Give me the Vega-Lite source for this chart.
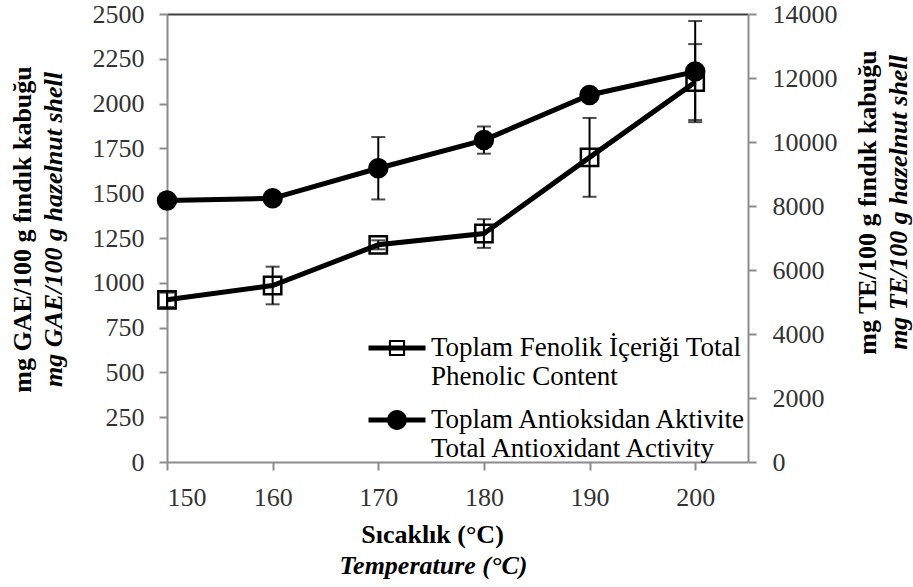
{
  "$schema": "https://vega.github.io/schema/vega-lite/v6.json",
  "width": 581,
  "height": 448,
  "autosize": {"type": "none"},
  "padding": {"left": 167, "top": 14, "right": 165, "bottom": 125},
  "background": "white",
  "config": {
    "view": {"stroke": null},
    "font": "Liberation Serif",
    "text": {"font": "Liberation Serif"},
    "legend": {"labelFont": "Liberation Serif", "labelFontSize": 27, "titleFont": "Liberation Serif"},
    "axis": {
      "grid": false,
      "labelFont": "Liberation Serif",
      "labelFontSize": 26,
      "labelColor": "#333333",
      "titleFont": "Liberation Serif",
      "titleFontSize": 26,
      "titleColor": "#000000",
      "titleFontWeight": "bold",
      "domainColor": "#8c8c8c",
      "domainWidth": 2,
      "tickColor": "#8c8c8c",
      "tickWidth": 2,
      "tickSize": 8
    }
  },
  "data": {
    "values": [
      {"t": 150, "s": "TPC", "v": 905, "e": 40},
      {"t": 160, "s": "TPC", "v": 985, "e": 105},
      {"t": 170, "s": "TPC", "v": 1212, "e": 25},
      {"t": 180, "s": "TPC", "v": 1275, "e": 80},
      {"t": 190, "s": "TPC", "v": 1700, "e": 220},
      {"t": 200, "s": "TPC", "v": 2120, "e": 212},
      {"t": 150, "s": "TAA", "v": 8170, "e": 60},
      {"t": 160, "s": "TAA", "v": 8240, "e": 60},
      {"t": 170, "s": "TAA", "v": 9180, "e": 975},
      {"t": 180, "s": "TAA", "v": 10060, "e": 425},
      {"t": 190, "s": "TAA", "v": 11470, "e": 80},
      {"t": 200, "s": "TAA", "v": 12200, "e": 1580}
    ]
  },
  "layer": [
    {
      "transform": [{"filter": "datum.s == 'TPC'"}],
      "encoding": {
        "x": {
          "field": "t", "type": "quantitative",
          "scale": {"domain": [150, 205], "nice": false, "zero": false},
          "axis": {"orient": "bottom", "values": [150, 160, 170, 180, 190, 200], "format": "d", "labelPadding": 14, "title": "Sıcaklık (°C)", "titlePadding": 11, "titleX": 265}
        },
        "y": {
          "field": "v", "type": "quantitative",
          "scale": {"domain": [0, 2500], "nice": false},
          "axis": {"orient": "left", "values": [0, 250, 500, 750, 1000, 1250, 1500, 1750, 2000, 2250, 2500], "format": "d", "labelPadding": 15, "title": "mg GAE/100 g fındık kabuğu", "titlePadding": 57, "titleY": 215}
        }
      },
      "layer": [
        {"mark": {"type": "line", "color": "black", "strokeWidth": 5}},
        {"mark": {"type": "errorbar", "color": "black", "thickness": 2, "ticks": {"size": 14, "thickness": 2, "color": "black"}}, "encoding": {"yError": {"field": "e"}}},
        {"mark": {"type": "point", "shape": "square", "filled": false, "stroke": "black", "strokeWidth": 2.5, "size": 300, "opacity": 1}}
      ]
    },
    {
      "transform": [{"filter": "datum.s == 'TPC'"}],
      "mark": {"type": "point", "opacity": 0},
      "encoding": {
        "x": {
          "field": "t", "type": "quantitative",
          "axis": {"orient": "bottom", "labels": false, "ticks": false, "domain": false, "title": "Temperature (°C)", "titleFontStyle": "italic", "titlePadding": 90, "titleX": 266}
        },
        "y": {
          "field": "v", "type": "quantitative",
          "scale": {"domain": [0, 2500], "nice": false},
          "axis": {"orient": "left", "labels": false, "ticks": false, "domain": false, "title": "mg GAE/100 g hazelnut shell", "titleFontStyle": "italic", "titlePadding": 101, "titleY": 215}
        }
      }
    },
    {
      "transform": [{"filter": "datum.s == 'TAA'"}],
      "encoding": {
        "x": {"field": "t", "type": "quantitative", "axis": null},
        "y": {
          "field": "v", "type": "quantitative",
          "scale": {"domain": [0, 14000], "nice": false},
          "axis": {"orient": "right", "values": [0, 2000, 4000, 6000, 8000, 10000, 12000, 14000], "format": "d", "labelPadding": 16, "title": "mg TE/100 g fındık kabuğu", "titleAngle": 270, "titleBaseline": "top", "titlePadding": 17, "titleY": 188}
        }
      },
      "layer": [
        {"mark": {"type": "line", "color": "black", "strokeWidth": 5}},
        {"mark": {"type": "errorbar", "color": "black", "thickness": 2, "ticks": {"size": 14, "thickness": 2, "color": "black"}}, "encoding": {"yError": {"field": "e"}}},
        {"mark": {"type": "point", "shape": "circle", "filled": true, "color": "black", "size": 420, "opacity": 1}}
      ]
    },
    {
      "transform": [{"filter": "datum.s == 'TAA'"}],
      "mark": {"type": "point", "opacity": 0},
      "encoding": {
        "x": {
          "field": "t", "type": "quantitative",
          "axis": {"orient": "top", "labels": false, "ticks": false, "title": null, "domainColor": "#404040", "domainWidth": 2}
        },
        "y": {
          "field": "v", "type": "quantitative",
          "scale": {"domain": [0, 14000], "nice": false},
          "axis": {"orient": "right", "labels": false, "ticks": false, "domain": false, "title": "mg TE/100 g hazelnut shell", "titleFontStyle": "italic", "titleAngle": 270, "titleBaseline": "top", "titlePadding": 137, "titleY": 188}
        }
      }
    },
    {
      "transform": [{"filter": "false"}],
      "mark": {"type": "point", "filled": true, "color": "black", "opacity": 1, "size": 3600},
      "encoding": {
        "shape": {
          "field": "s", "type": "nominal",
          "scale": {
            "domain": ["TPC", "TAA"],
            "range": [
              "M-0.95,-0.083H0.95V0.083H-0.95Z M-0.27,-0.27H0.27V0.27H-0.27Z M-0.2,-0.2V0.2H0.2V-0.2Z",
              "M-0.95,-0.083H0.95V0.083H-0.95Z M-0.33,0A0.33,0.33,0,1,1,0.33,0A0.33,0.33,0,1,1,-0.33,0Z"
            ]
          },
          "legend": {
            "orient": "bottom-right",
            "offset": 0,
            "padding": 0,
            "title": null,
            "symbolSize": 3600,
            "symbolFillColor": "black",
            "symbolStrokeWidth": 0,
            "symbolOpacity": 1,
            "labelFont": "Liberation Serif",
            "labelFontSize": 27,
            "labelColor": "#000000",
            "labelLimit": 500,
            "labelOffset": 4,
            "rowPadding": -12,
            "labelExpr": "datum.label == 'TPC' ? ['Toplam Fenolik İçeriği Total', 'Phenolic Content'] : ['Toplam Antioksidan Aktivite', 'Total Antioxidant Activity']"
          }
        }
      }
    }
  ],
  "resolve": {
    "scale": {"y": "independent"},
    "axis": {"x": "independent", "y": "independent"}
  }
}
